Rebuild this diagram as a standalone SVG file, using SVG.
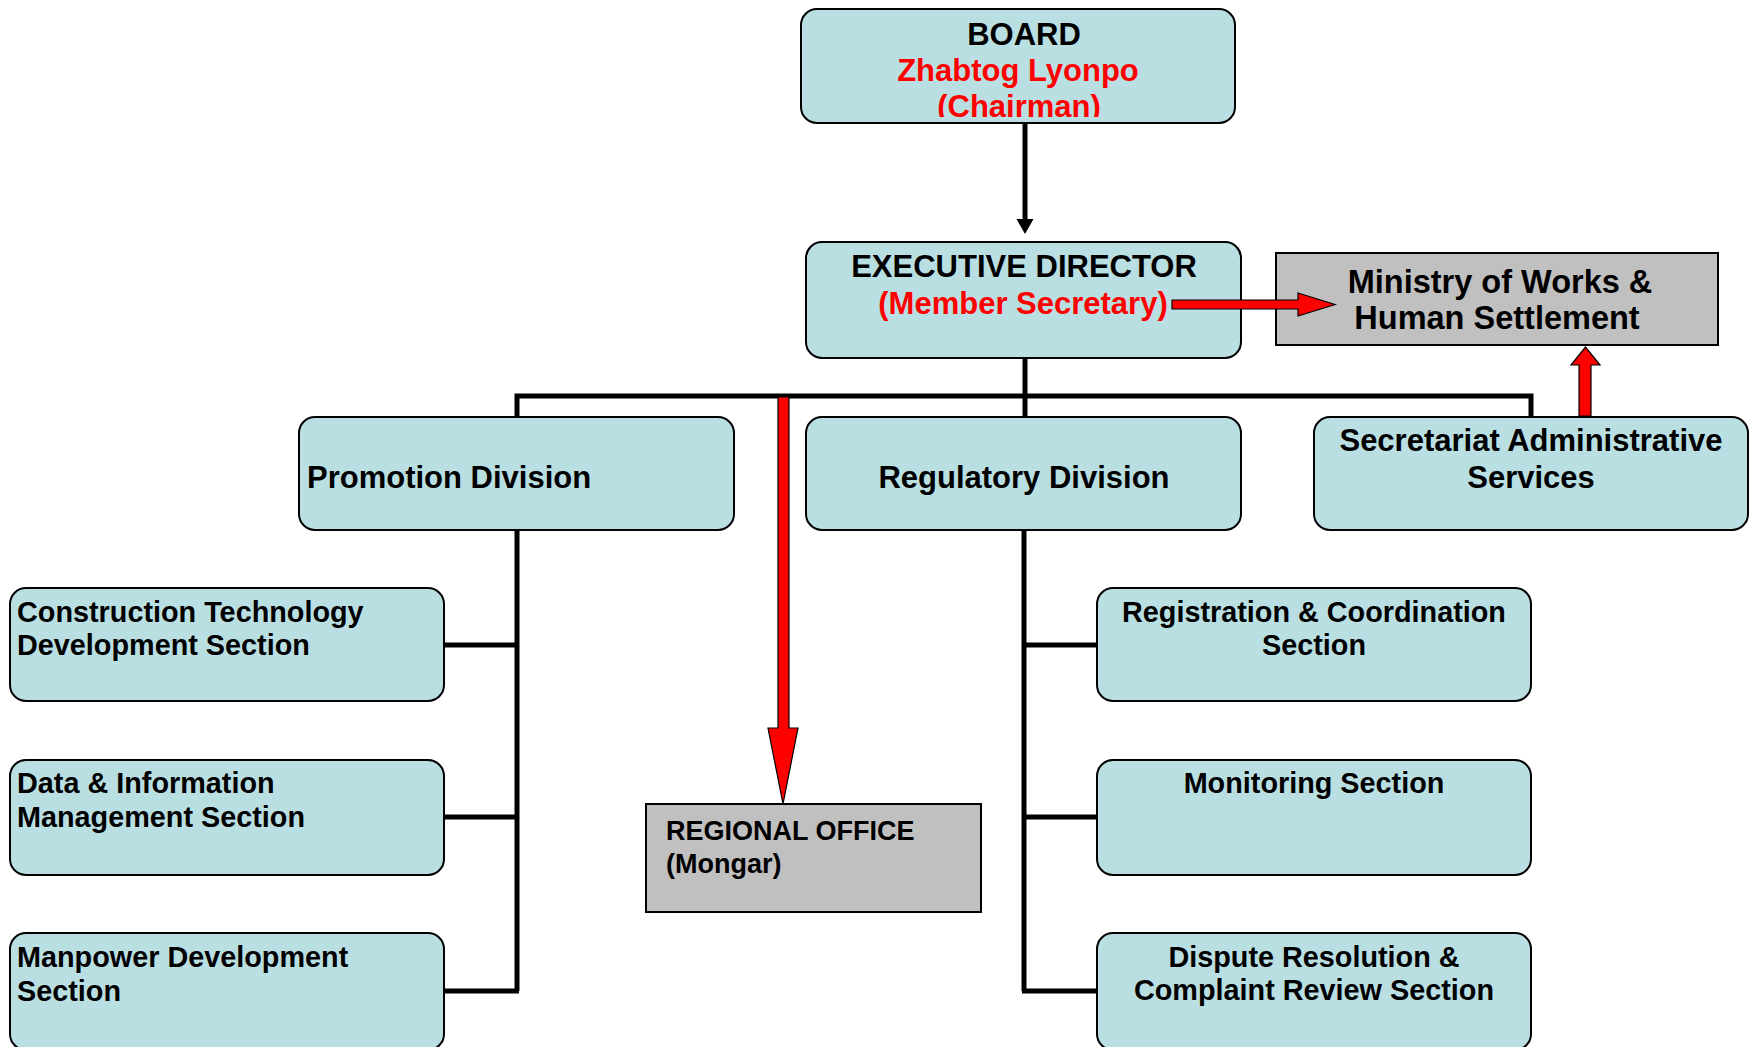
<svg xmlns="http://www.w3.org/2000/svg" width="1751" height="1047" viewBox="0 0 1751 1047">
<style>
.box{fill:#B9DFE3;stroke:#000;stroke-width:2}
.gray{fill:#C0C0C0;stroke:#000;stroke-width:2}
.t{font-family:"Liberation Sans",Arial,sans-serif;font-weight:bold;fill:#000}
.red{fill:#FF0000}
.c{text-anchor:middle}
.conn{fill:none;stroke:#000;stroke-width:5}
.rarrow{fill:#FF0000;stroke:#000;stroke-width:1.2}
</style>
<defs>
<clipPath id="boardClip"><rect x="801" y="9" width="434" height="108"/></clipPath>
</defs>
<rect width="1751" height="1047" fill="#fff"/>

<g id="board">
<rect class="box" x="801" y="9" width="434" height="114" rx="16"/>
<g clip-path="url(#boardClip)">
<text class="t c" x="1024" y="45" font-size="31">BOARD</text>
<text class="t c red" x="1018" y="81" font-size="31">Zhabtog Lyonpo</text>
<text class="t c red" x="1019" y="117" font-size="31">(Chairman)</text>
</g>
</g>

<g id="executive-director">
<rect class="box" x="806" y="242" width="435" height="116" rx="16"/>
<text class="t c" x="1024" y="277" font-size="31">EXECUTIVE DIRECTOR</text>
<text class="t c red" x="1023" y="314" font-size="31">(Member Secretary)</text>
</g>

<g id="ministry">
<rect class="gray" x="1276" y="253" width="442" height="92"/>
<text class="t c" x="1500" y="293" font-size="32.5">Ministry of Works &amp;</text>
<text class="t c" x="1497" y="329" font-size="32.5">Human Settlement</text>
</g>

<g id="promotion-division">
<rect class="box" x="299" y="417" width="435" height="113" rx="16"/>
<text class="t" x="307" y="488" font-size="31">Promotion Division</text>
</g>

<g id="regulatory-division">
<rect class="box" x="806" y="417" width="435" height="113" rx="16"/>
<text class="t c" x="1024" y="488" font-size="31">Regulatory Division</text>
</g>

<g id="secretariat">
<rect class="box" x="1314" y="417" width="434" height="113" rx="16"/>
<text class="t c" x="1531" y="451" font-size="31">Secretariat Administrative</text>
<text class="t c" x="1531" y="488" font-size="31">Services</text>
</g>

<g id="construction-technology">
<rect class="box" x="10" y="588" width="434" height="113" rx="16"/>
<text class="t" x="17" y="622" font-size="28.8">Construction Technology</text>
<text class="t" x="17" y="655" font-size="28.8">Development Section</text>
</g>

<g id="data-information">
<rect class="box" x="10" y="760" width="434" height="115" rx="16"/>
<text class="t" x="17" y="793" font-size="28.8">Data &amp; Information</text>
<text class="t" x="17" y="827" font-size="28.8">Management Section</text>
</g>

<g id="manpower">
<rect class="box" x="10" y="933" width="434" height="117" rx="16"/>
<text class="t" x="17" y="967" font-size="28.8">Manpower Development</text>
<text class="t" x="17" y="1001" font-size="28.8">Section</text>
</g>

<g id="regional-office">
<rect class="gray" x="646" y="804" width="335" height="108"/>
<text class="t" x="666" y="840" font-size="27">REGIONAL OFFICE</text>
<text class="t" x="666" y="873" font-size="27">(Mongar)</text>
</g>

<g id="registration">
<rect class="box" x="1097" y="588" width="434" height="113" rx="16"/>
<text class="t c" x="1314" y="622" font-size="28.8">Registration &amp; Coordination</text>
<text class="t c" x="1314" y="655" font-size="28.8">Section</text>
</g>

<g id="monitoring">
<rect class="box" x="1097" y="760" width="434" height="115" rx="16"/>
<text class="t c" x="1314" y="793" font-size="28.8">Monitoring Section</text>
</g>

<g id="dispute">
<rect class="box" x="1097" y="933" width="434" height="117" rx="16"/>
<text class="t c" x="1314" y="967" font-size="28.8">Dispute Resolution &amp;</text>
<text class="t c" x="1314" y="1000" font-size="28.8">Complaint Review Section</text>
</g>

<g id="connectors">
<line class="conn" x1="1025" y1="124" x2="1025" y2="222"/>
<polygon points="1016.5,219 1033.5,219 1025,234" fill="#000"/>
<polyline class="conn" points="517,416 517,396 1531,396 1531,416"/>
<line class="conn" x1="1025" y1="359" x2="1025" y2="416"/>
<polyline class="conn" points="517,531 517,991"/>
<line class="conn" x1="445" y1="645" x2="517" y2="645"/>
<line class="conn" x1="445" y1="817" x2="517" y2="817"/>
<line class="conn" x1="445" y1="991" x2="519" y2="991"/>
<polyline class="conn" points="1024,531 1024,991"/>
<line class="conn" x1="1022" y1="645" x2="1096" y2="645"/>
<line class="conn" x1="1022" y1="817" x2="1096" y2="817"/>
<line class="conn" x1="1022" y1="991" x2="1096" y2="991"/>
<polygon class="rarrow" points="778,397 789,397 789,728 798,728 783,804 768,728 778,728"/>
<polygon class="rarrow" points="1172,300 1298,300 1298,293 1335,304.5 1298,316 1298,309 1172,309"/>
<polygon class="rarrow" points="1579,416 1579,365 1571,365 1585.5,347 1600,365 1591,365 1591,416"/>
</g>
</svg>
